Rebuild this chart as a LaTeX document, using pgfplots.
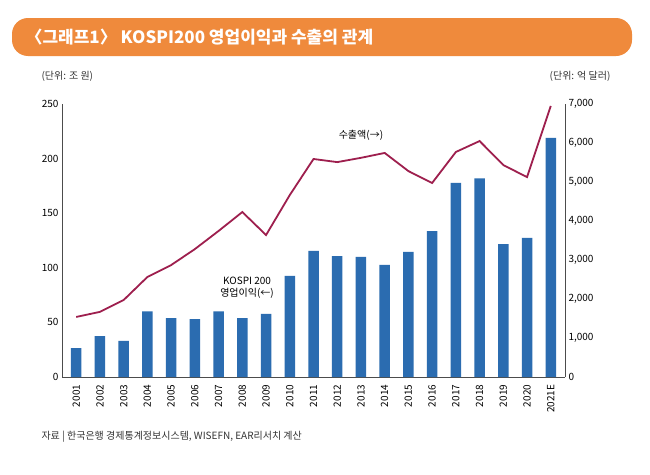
\documentclass[border=0pt]{standalone}
\usepackage{pgfplots}
\pgfplotsset{compat=1.18}
\usepackage{fontspec}
\setmainfont{Noto Sans CJK KR}
\definecolor{bar}{HTML}{2B6CB0}
\definecolor{ln}{HTML}{9E1F4E}
\definecolor{org}{HTML}{EF8A3C}
\begin{document}
\begin{tikzpicture}
\path[fill=white] (0pt,-474pt) rectangle (650pt,0pt);
\fill[org,rounded corners=16pt] (12pt,-56pt) rectangle (632pt,-18pt);
\node[anchor=west,text=white,font=\bfseries\fontsize{17}{19}\selectfont] at (22pt,-37pt) {〈그래프1〉 KOSPI200 영업이익과 수출의 관계};
\node[anchor=west,font=\fontsize{10}{12}\selectfont,text=black!80] at (38pt,-76pt) {(단위: 조 원)};
\node[anchor=east,font=\fontsize{10}{12}\selectfont,text=black!80] at (614pt,-76pt) {(단위: 억 달러)};
\node[anchor=west,font=\fontsize{10}{12}\selectfont,text=black!80] at (38pt,-437pt) {자료 | 한국은행 경제통계정보시스템, WISEFN, EAR리서치 계산};
\begin{axis}[at={(62pt,-377pt)},anchor=south west,scale only axis,width=503pt,height=273pt,
 xmin=-0.6,xmax=20.6,ymin=0,ymax=250,ytick={0,50,...,250},
 axis y line*=left,axis x line*=bottom,
 xtick={0,...,20},xticklabels={2001,2002,2003,2004,2005,2006,2007,2008,2009,2010,2011,2012,2013,2014,2015,2016,2017,2018,2019,2020,2021E},
 xticklabel style={rotate=90,anchor=east,font=\fontsize{10}{12}\selectfont},
 yticklabel style={font=\fontsize{10}{12}\selectfont},
 /pgf/number format/assume math mode=true,
 tick style={draw=none},axis line style={black!70},
 ybar,bar width=10.5pt]
\addplot[fill=bar,draw=none] coordinates {(0,26.5)(1,37.5)(2,33)(3,60)(4,54)(5,53)(6,60)(7,54)(8,57.7)(9,92.5)(10,115.4)(11,110.8)(12,110)(13,102.6)(14,114.5)(15,133.7)(16,177.7)(17,182)(18,121.8)(19,127.3)(20,218.9)};
\node[font=\fontsize{10}{12}\selectfont,align=center] at (axis cs:7.2,82) {KOSPI 200\\영업이익(←)};
\end{axis}
\begin{axis}[at={(62pt,-377pt)},anchor=south west,scale only axis,width=503pt,height=273pt,
 xmin=-0.6,xmax=20.6,ymin=0,ymax=7000,ytick={0,1000,...,7000},
 axis y line*=right,axis x line=none,
 yticklabel style={font=\fontsize{10}{12}\selectfont},
 /pgf/number format/assume math mode=true,
 /pgf/number format/1000 sep={,},
 tick style={draw=none},axis line style={black!70}]
\addplot[ln,line width=1.8pt,mark=none] coordinates {(0,1540)(1,1670)(2,1975)(3,2565)(4,2870)(5,3280)(6,3745)(7,4230)(8,3640)(9,4665)(10,5590)(11,5510)(12,5620)(13,5745)(14,5280)(15,4975)(16,5770)(17,6050)(18,5435)(19,5125)(20,6950)};
\node[font=\fontsize{10}{12}\selectfont] at (axis cs:12,6200) {수출액(→)};
\end{axis}
\end{tikzpicture}
\end{document}
